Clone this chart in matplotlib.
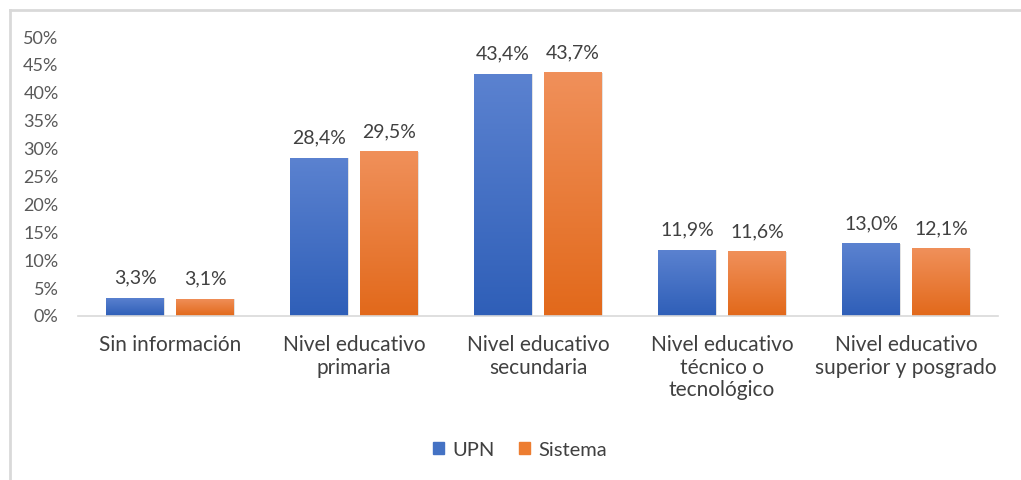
import numpy as np
import matplotlib
matplotlib.use('Agg')
import matplotlib.pyplot as plt
from matplotlib.colors import LinearSegmentedColormap
from matplotlib.lines import Line2D
from matplotlib.ticker import FuncFormatter

plt.rcParams['font.family'] = ['Lato', 'DejaVu Sans']

categories = ["Sin información", "Nivel educativo\nprimaria", "Nivel educativo\nsecundaria",
              "Nivel educativo\ntécnico o\ntecnológico", "Nivel educativo\nsuperior y posgrado"]
upn = [3.3, 28.4, 43.4, 11.9, 13.0]
sistema = [3.1, 29.5, 43.7, 11.6, 12.1]
series_names = ["UPN", "Sistema"]

W, H = 1021, 480
fig = plt.figure(figsize=(W / 100, H / 100), dpi=100)
ax = fig.add_axes([78 / W, 1 - 316 / H, (998 - 78) / W, (316 - 37) / H])

# outer frame (top and left edges visible)
fig.add_artist(Line2D([10 / W, 10 / W], [0, 1 - 10 / H], color='#d9d9d9', lw=2, transform=fig.transFigure))
fig.add_artist(Line2D([10 / W, 1], [1 - 10 / H, 1 - 10 / H], color='#d9d9d9', lw=2, transform=fig.transFigure))

blue_cm = LinearSegmentedColormap.from_list('b', ['#2f5fb8', '#5b82d0'])
orange_cm = LinearSegmentedColormap.from_list('o', ['#e2691b', '#f0905a'])

x = np.arange(len(categories))
bw = 0.315
off = 0.19
grad = np.linspace(0, 1, 100).reshape(-1, 1)

for vals, shift, cm in [(upn, -off, blue_cm), (sistema, off, orange_cm)]:
    bars = ax.bar(x + shift, [v / 100 for v in vals], bw, color='none', zorder=2)
    for b, v in zip(bars, vals):
        x0, y0 = b.get_x(), b.get_y()
        w, h = b.get_width(), b.get_height()
        # soft shadow
        ax.bar(x0 + w / 2 + 0.006, h, w, bottom=-0.001, color='#d0d0d0', alpha=0.6, zorder=1)
        im = ax.imshow(grad, extent=[x0, x0 + w, y0, y0 + h], origin='lower', aspect='auto',
                       cmap=cm, zorder=2)
        im.set_clip_path(b)
        ax.text(x0 + w / 2, h + 0.02, f"{v:.1f}%".replace('.', ','), ha='center', va='bottom',
                fontsize=14, color='#404040')

ax.set_xlim(-0.5, 4.5)
ax.set_ylim(0, 0.5)
ax.set_yticks(np.arange(0, 0.51, 0.05))
ax.yaxis.set_major_formatter(FuncFormatter(lambda v, p: f"{round(v * 100)}%"))
ax.set_xticks(x)
ax.set_xticklabels(categories, fontsize=15, color='#404040', linespacing=1.15, va='top')
ax.tick_params(axis='y', length=0, labelsize=13, labelcolor='#595959', pad=14)
ax.tick_params(axis='x', length=0, pad=14)
for s in ['top', 'right', 'left']:
    ax.spines[s].set_visible(False)
ax.spines['bottom'].set_color('#d9d9d9')
ax.spines['bottom'].set_linewidth(1.2)

handles = [plt.Rectangle((0, 0), 1, 1, color='#4472c4'), plt.Rectangle((0, 0), 1, 1, color='#ed7d31')]
fig.legend(handles, series_names, loc='center', bbox_to_anchor=(520 / W, 1 - 450 / H), ncol=2,
           frameon=False, fontsize=14.5, handlelength=0.55, handleheight=0.55, handletextpad=0.4,
           columnspacing=1.2, labelcolor='#404040')

fig.savefig('out.png', dpi=100)
